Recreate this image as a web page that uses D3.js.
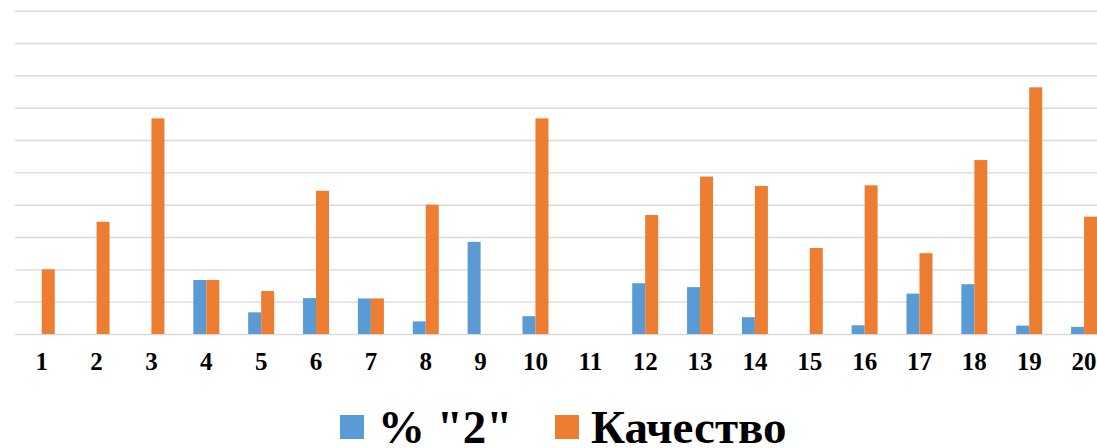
<!DOCTYPE html>
<html>
<head>
<meta charset="utf-8">
<script src="https://cdn.jsdelivr.net/npm/d3@7"></script>
<style>
  html, body { margin: 0; padding: 0; background: #fff; overflow: hidden; }
  svg { display: block; }
</style>
</head>
<body>
<svg id="chart" width="1097" height="448"></svg>
<script>
const categories = ["1","2","3","4","5","6","7","8","9","10","11","12","13","14","15","16","17","18","19","20"];
const seriesNames = ['% "2"', "Качество"];
const seriesColors = ["#5b9bd5", "#ed7d31"];
const valuesTwo = [0, 0, 0, 16.7, 6.7, 11.1, 11, 3.9, 28.5, 5.5, 0, 15.7, 14.5, 5.2, 0, 2.7, 12.5, 15.4, 2.6, 2.2];
const valuesQuality = [20, 34.7, 66.7, 16.7, 13.3, 44.3, 11, 40, 0, 66.7, 0, 36.8, 48.7, 45.8, 26.6, 46, 25, 53.8, 76.3, 36.3];
const yTicks = [0, 10, 20, 30, 40, 50, 60, 70, 80, 90, 100];

const svg = d3.select("#chart");
const serif = "'Liberation Serif', 'Times New Roman', serif";

const x0 = d3.scaleBand().domain(categories).range([14.3, 1111.5]).paddingInner(0.526).paddingOuter(0.263);
const x1 = d3.scaleBand().domain(seriesNames).range([0, x0.bandwidth()]);
const y = d3.scaleLinear().domain([0, 100]).range([334, 10.7]);
const color = d3.scaleOrdinal().domain(seriesNames).range(seriesColors);

// gridlines
const grid = d3.axisLeft(y).tickValues(yTicks).tickSize(-(1111.5 - 15)).tickFormat("");
const gg = svg.append("g").attr("transform", "translate(15,0)").call(grid);
gg.select(".domain").remove();
gg.selectAll("line").attr("stroke", "#d9d9d9").attr("stroke-width", 1.4);

// bars
const rows = categories.map((c, i) => ({ cat: c, vals: [valuesTwo[i], valuesQuality[i]] }));
const groups = svg.append("g").selectAll("g").data(rows).join("g")
  .attr("transform", d => `translate(${x0(d.cat)},0)`);
groups.selectAll("rect")
  .data(d => d.vals.map((v, k) => ({ name: seriesNames[k], v })))
  .join("rect")
  .attr("x", d => x1(d.name))
  .attr("width", x1.bandwidth())
  .attr("y", d => y(d.v))
  .attr("height", d => y(0) - y(d.v))
  .attr("fill", d => color(d.name));

// x axis labels
const xAxis = d3.axisBottom(x0).tickSize(0).tickPadding(0);
const xg = svg.append("g").attr("transform", "translate(0,370)").call(xAxis);
xg.select(".domain").remove();
xg.selectAll("text")
  .attr("font-family", serif).attr("font-weight", "bold").attr("font-size", 25)
  .attr("fill", "#000").attr("dy", "0");

// legend
const legendItems = [
  { name: seriesNames[0], sx: 340, tx: 378 },
  { name: seriesNames[1], sx: 555, tx: 591 }
];
const lg = svg.append("g");
legendItems.forEach(it => {
  lg.append("rect").attr("x", it.sx).attr("y", 415).attr("width", 24).attr("height", 24)
    .attr("fill", color(it.name));
  lg.append("text").attr("x", it.tx).attr("y", 442.5)
    .attr("font-family", serif).attr("font-weight", "bold").attr("font-size", 47)
    .attr("fill", "#000").text(it.name);
});
</script>
</body>
</html>
